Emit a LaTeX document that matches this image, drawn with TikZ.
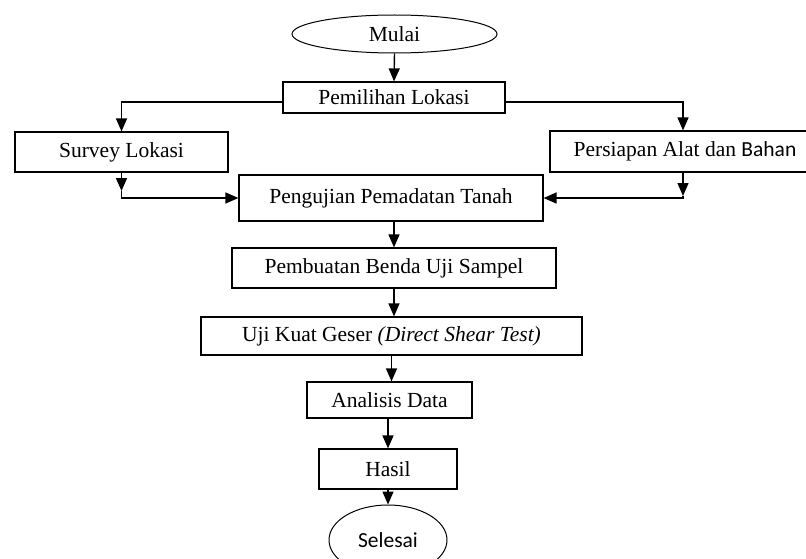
\documentclass[tikz,border=0pt]{standalone}
\usepackage{fontspec}
\setmainfont{Liberation Serif}
\newfontfamily\calibrifont{Carlito}
\usetikzlibrary{shapes.geometric,arrows.meta}
\begin{document}
\begin{tikzpicture}[x=1pt,y=-1pt,
  every node/.style={font=\fontsize{21.5}{26}\selectfont, inner sep=0pt},
  procbox/.style={draw, line width=1.2pt, rectangle, minimum width=#1},
  termnode/.style={draw, line width=1pt, ellipse},
  arr/.style={line width=1.4pt, -{Triangle[length=13pt,width=11pt]}},
  conn/.style={line width=1.4pt}]
\useasboundingbox (0,0) rectangle (806,559);
\clip (0,0) rectangle (806,559);
\node[termnode, minimum width=205, minimum height=38] (mulai) at (394.5,34) {Mulai};
\node[procbox=222, minimum height=31] (pemilihan) at (394,97.5) {Pemilihan Lokasi};
\node[procbox=213, minimum height=40] (survey) at (121.5,152) {Survey Lokasi};
\node[procbox=270, minimum height=41] (persiapan) at (685,151.5) {Persiapan Alat dan {\calibrifont Bahan}};
\node[procbox=304, minimum height=46] (pengujian) at (391,198) {Pengujian Pemadatan Tanah};
\node[procbox=324, minimum height=40] (pembuatan) at (394,268) {Pembuatan Benda Uji Sampel};
\node[procbox=381, minimum height=38] (uji) at (391.5,336) {Uji Kuat Geser \textit{(Direct Shear Test)}};
\node[procbox=165, minimum height=36] (analisis) at (389.5,400) {Analisis Data};
\node[procbox=138, minimum height=40] (hasil) at (388,469) {Hasil};
\node[termnode, minimum width=118, minimum height=70] (selesai) at (388,540) {\calibrifont Selesai};

\coordinate (sv1) at (121.5,191);
\coordinate (sv2) at (121.5,198);
\coordinate (ps1) at (683,196);
\coordinate (ps2) at (683,198);

\draw[arr] (mulai.south) -- (pemilihan.north);
\draw[arr] ([yshift=-4.5pt]pemilihan.west) -| (survey.north);
\draw[arr] ([yshift=-4.5pt]pemilihan.east) -| ([xshift=-2pt]persiapan.north);
\draw[arr] (survey.south) -- (sv1);
\draw[arr] (sv1) -- (sv2) -- (pengujian.west);
\draw[arr] ([xshift=-2pt]persiapan.south) -- (ps1);
\draw[arr] (ps1) -- (ps2) -- (pengujian.east);
\draw[arr] (pengujian.south -| pembuatan.north) -- (pembuatan.north);
\draw[arr] (pembuatan.south) -- (uji.north -| pembuatan.south);
\draw[arr] (uji.south) -- (analisis.north -| uji.south);
\draw[arr] (analisis.south -| hasil.north) -- (hasil.north);
\draw[arr] (hasil.south) -- (selesai.north);
\end{tikzpicture}
\end{document}
